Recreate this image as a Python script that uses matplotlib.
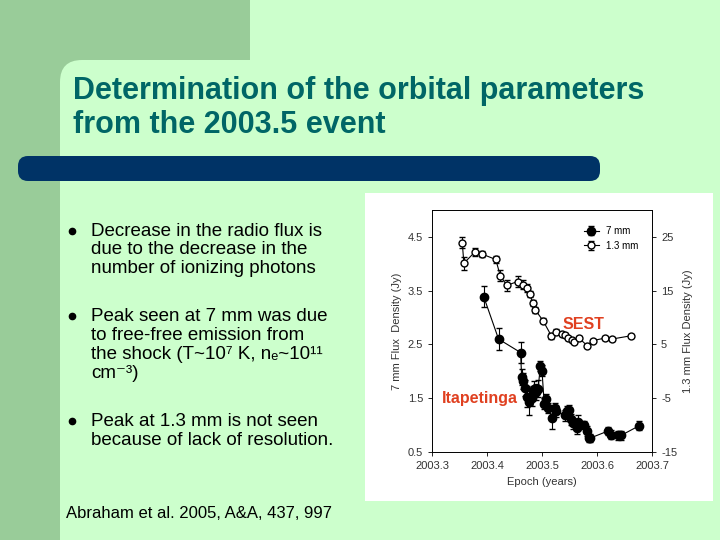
import matplotlib
matplotlib.use("Agg")
import matplotlib.pyplot as plt
from matplotlib.patches import Rectangle, FancyBboxPatch

plt.rcParams['font.family'] = ['Liberation Sans', 'DejaVu Sans']

# 7 mm (Itapetinga) data
t7 = [2003.394, 2003.421, 2003.461, 2003.463, 2003.466, 2003.469, 2003.472, 2003.476, 2003.479,
      2003.482, 2003.485, 2003.489, 2003.493, 2003.497, 2003.500, 2003.504, 2003.508, 2003.511,
      2003.519, 2003.523, 2003.525, 2003.542, 2003.545, 2003.549, 2003.553, 2003.557, 2003.563,
      2003.566, 2003.576, 2003.581, 2003.585, 2003.588, 2003.620, 2003.626, 2003.639, 2003.644, 2003.677]
f7 = [3.39, 2.60, 2.35, 1.90, 1.82, 1.69, 1.53, 1.43, 1.53, 1.50, 1.67, 1.62, 1.68, 2.10, 2.01,
      1.40, 1.48, 1.32, 1.13, 1.31, 1.26, 1.18, 1.26, 1.28, 1.11, 1.03, 0.94, 1.06, 1.00, 0.89,
      0.76, 0.76, 0.89, 0.82, 0.81, 0.81, 0.99]
e7 = [0.2, 0.2, 0.2, 0.15, 0.15, 0.15, 0.2, 0.25, 0.15, 0.15, 0.15, 0.15, 0.15, 0.1, 0.1,
      0.1, 0.1, 0.1, 0.2, 0.1, 0.1, 0.1, 0.1, 0.1, 0.1, 0.1, 0.1, 0.12, 0.08, 0.1,
      0.08, 0.08, 0.08, 0.08, 0.08, 0.08, 0.08]

# 1.3 mm (SEST) data
t13 = [2003.355, 2003.358, 2003.378, 2003.391, 2003.416, 2003.424, 2003.436, 2003.456, 2003.466,
       2003.473, 2003.478, 2003.483, 2003.488, 2003.502, 2003.517, 2003.525, 2003.536, 2003.542,
       2003.548, 2003.555, 2003.559, 2003.567, 2003.582, 2003.592, 2003.615, 2003.627, 2003.661]
f13 = [23.9, 20.1, 22.2, 21.8, 20.8, 17.8, 16.0, 16.7, 16.1, 15.5, 14.4, 12.7, 11.4, 9.4, 6.6,
       7.4, 6.9, 6.8, 6.2, 5.8, 5.5, 6.2, 4.8, 5.7, 6.2, 6.0, 6.6]
e13 = [1.0, 1.2, 0.7, 0.6, 0.7, 1.0, 1.0, 1.0, 0.8, 0.8, 0.6, 0.6, 0.6, 0.5, 0.5, 0.4, 0.3, 0.3,
       0.3, 0.3, 0.3, 0.3, 0.3, 0.3, 0.3, 0.3, 0.3]

W, H = 720, 540
fig = plt.figure(figsize=(7.2, 5.4), dpi=100)
fig.patch.set_facecolor('#CCFFCC')
bg = fig.add_axes([0, 0, 1, 1])
bg.set_xlim(0, W); bg.set_ylim(H, 0); bg.axis('off')
bg.add_patch(Rectangle((0, 0), 60, H, color='#99CC99', lw=0))
bg.add_patch(Rectangle((0, 0), 250, 60, color='#99CC99', lw=0))
bg.add_patch(Rectangle((0, 0), 90, 90, color='#99CC99', lw=0))
bg.add_patch(FancyBboxPatch((60, 60), 700, 600, boxstyle='round,pad=0,rounding_size=22',
                            fc='#CCFFCC', lw=0))
bg.add_patch(FancyBboxPatch((18, 156), 582, 25, boxstyle='round,pad=0,rounding_size=10',
                            fc='#003366', lw=0))
bg.text(73, 91, 'Determination of the orbital parameters', fontsize=22,
        fontweight='bold', color='#006666', va='center', ha='left')
bg.text(73, 125, 'from the 2003.5 event', fontsize=22,
        fontweight='bold', color='#006666', va='center', ha='left')
bg.add_patch(Rectangle((365, 193), 348, 308, color='white', lw=0))

lines = [(230, 'Decrease in the radio flux is'), (248, 'due to the decrease in the'),
         (267, 'number of ionizing photons'),
         (315, 'Peak seen at 7 mm was due'), (334, 'to free-free emission from'),
         (353, 'the shock (T~10⁷ K, nₑ~10¹¹'), (372, 'cm⁻³)'),
         (420, 'Peak at 1.3 mm is not seen'), (439, 'because of lack of resolution.')]
for y in (230, 315, 420):
    bg.plot(72, y + 1, 'o', ms=4.5, color='black')
for y, s in lines:
    bg.text(91, y + 6, s, fontsize=13.5, va='baseline', ha='left', color='black')
bg.text(66, 513, 'Abraham et al. 2005, A&A, 437, 997', fontsize=12, va='center', color='black')

ax = fig.add_axes([432 / W, 1 - 452 / H, (652 - 432) / W, (452 - 210) / H])
ax.set_facecolor('white')
ax.errorbar(t7, f7, yerr=e7, fmt='-o', color='black', ms=6, lw=0.8, elinewidth=0.8, capsize=2,
            label='7 mm')
ax.set_xlim(2003.3, 2003.7)
ax.set_ylim(0.5, 5.0)
ax.set_xticks([2003.3, 2003.4, 2003.5, 2003.6, 2003.7])
ax.set_xticklabels(['2003.3', '2003.4', '2003.5', '2003.6', '2003.7'])
ax.set_yticks([0.5, 1.5, 2.5, 3.5, 4.5])
ax.set_xlabel('Epoch (years)', fontsize=8, color='#333333')
ax.set_ylabel('7 mm Flux  Density (Jy)', fontsize=8, color='#333333')
ax.tick_params(labelsize=8, direction='out', length=3, width=0.6, labelcolor='#333333')
ax2 = ax.twinx()
ax2.errorbar(t13, f13, yerr=e13, fmt='-o', color='black', mfc='white', ms=5, lw=0.8,
             elinewidth=0.8, capsize=2, label='1.3 mm')
ax2.set_ylim(-15, 30)
ax2.set_yticks([-15, -5, 5, 15, 25])
ax2.set_yticklabels(['-15', '-5', '5', '15', '25'])
ax2.set_ylabel('1.3 mm Flux Density (Jy)', fontsize=8, color='#333333')
ax2.tick_params(labelsize=8, direction='out', length=3, width=0.6, labelcolor='#333333')
for a in (ax, ax2):
    for sp in a.spines.values():
        sp.set_linewidth(0.6)
h1, l1 = ax.get_legend_handles_labels()
h2, l2 = ax2.get_legend_handles_labels()
ax2.legend(h1 + h2, l1 + l2, loc='upper right', fontsize=7, frameon=False, handlelength=1.5,
           bbox_to_anchor=(0.98, 0.97))
ax2.text(2003.537, 7.8, 'SEST', color='#E04020', fontsize=11.5, fontweight='bold')
ax.text(2003.318, 1.5, 'Itapetinga', color='#E04020', fontsize=11.5, fontweight='bold', va='center')

fig.savefig('out.png', dpi=100, facecolor=fig.get_facecolor())
